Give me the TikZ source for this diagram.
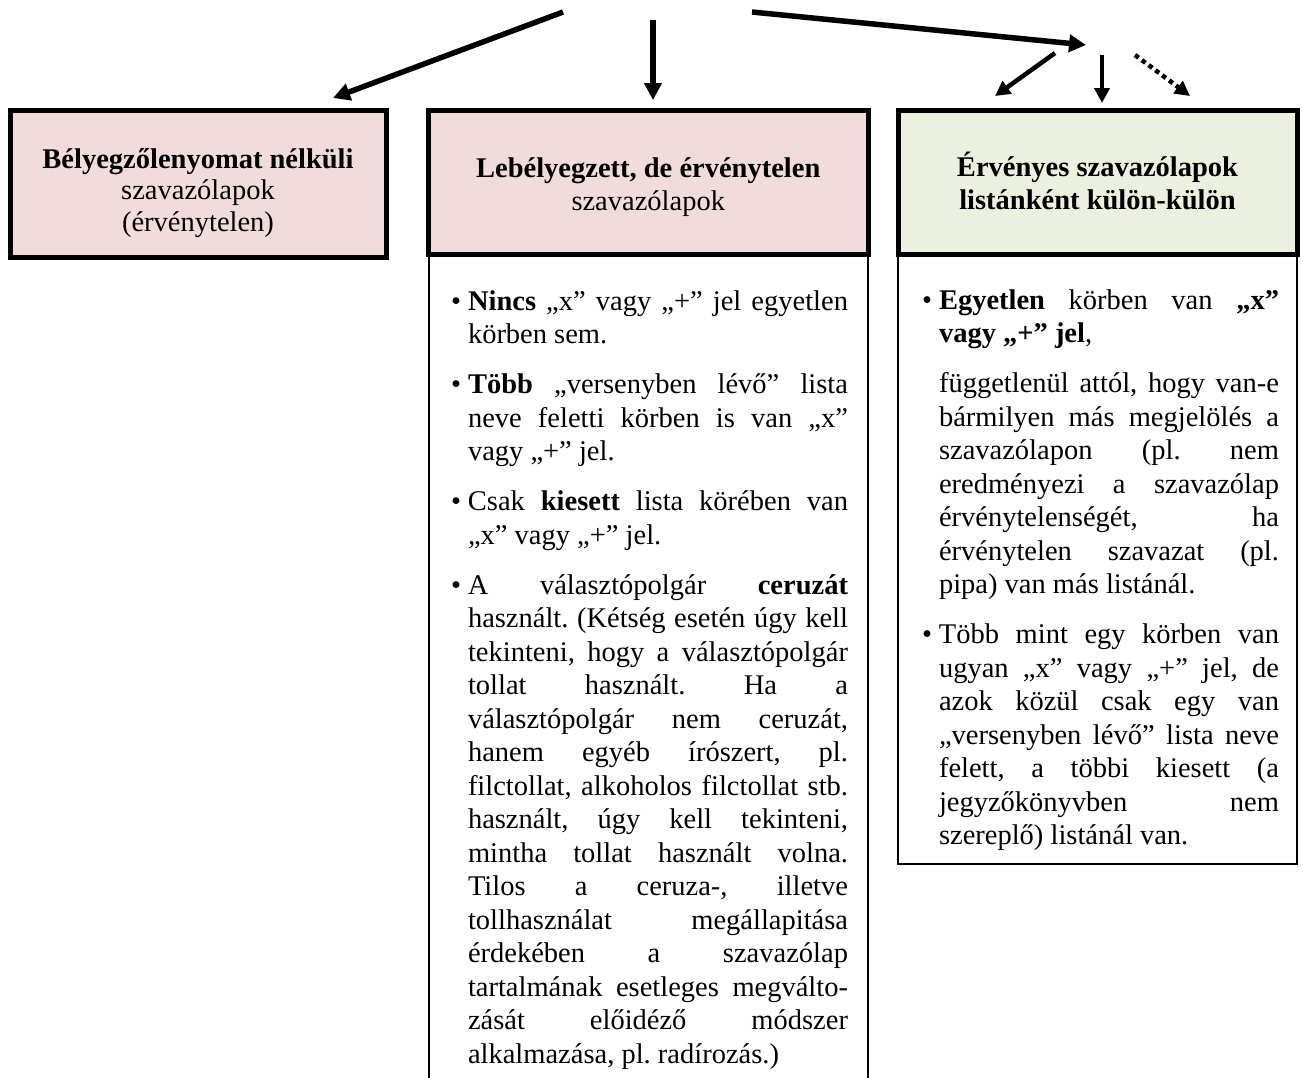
\documentclass[tikz,border=0pt]{standalone}
\usepackage{fontspec}
\setmainfont{Liberation Serif}
\usetikzlibrary{arrows.meta}
\definecolor{pinkc}{HTML}{F2DCDB}
\definecolor{greenc}{HTML}{EBF1DE}
\frenchspacing
\newlength\cw
\newcommand\jline[1]{\hbox to \cw{\spaceskip=.25em plus 1fil minus .05em\xspaceskip=\spaceskip #1}}
\newcommand\eline[1]{\hbox to \cw{#1\hfil}}
\newcommand\bul{\llap{•\hskip 7pt}}
\newcommand\itemgap{\vskip 16.5pt}
\begin{document}
\begin{tikzpicture}[x=1pt,y=-1pt,
  hdrbox/.style={draw=black, line width=5pt, rectangle, inner sep=0pt, outer sep=0pt},
  bodybox/.style={draw=black, line width=2pt, rectangle, fill=white, inner sep=0pt, outer sep=0pt},
  txt/.style={inner sep=0pt, outer sep=0pt, font=\fontsize{28.5}{33.5}\selectfont},
  bigarrow/.style={line width=5.5pt, -{Triangle[length=17pt,width=17pt]}},
  smallarrow/.style={line width=4.5pt, -{Triangle[length=15pt,width=15pt]}},
  dotarrow/.style={line width=4.5pt, dash pattern=on 4.5pt off 4pt, -{Triangle[length=15pt,width=15pt]}}
]
\useasboundingbox (0,0) rectangle (1303,1077);
\fill[white] (0,0) rectangle (1303,1077);
\clip (0,0) rectangle (1303,1077);

% content boxes
\node[bodybox, minimum width=439.5pt, minimum height=836pt] (midbody) at (648.25,672) {};
\node[bodybox, minimum width=399pt, minimum height=609.5pt] (rightbody) at (1097.5,558.75) {};

% header boxes
\node[hdrbox, fill=pinkc, minimum width=376pt, minimum height=146.5pt] (boxL) at (198,183.75) {};
\node[hdrbox, fill=pinkc, minimum width=439.5pt, minimum height=143.5pt] (boxM) at (648.25,182.25) {};
\node[hdrbox, fill=greenc, minimum width=399pt, minimum height=143.5pt] (boxR) at (1097.5,182.25) {};

% header texts
\node[txt, anchor=base] (hL) at (198,168) {\vtop{\hsize=370pt\centering\baselineskip=31.5pt \textbf{Bélyegzőlenyomat nélküli}\\szavazólapok\\(érvénytelen)\par}};
\node[txt, anchor=base] (hM) at (648.25,177) {\vtop{\hsize=430pt\centering\baselineskip=33pt \textbf{Lebélyegzett, de érvénytelen}\\szavazólapok\par}};
\node[txt, anchor=base] (hR) at (1097.5,176) {\vtop{\hsize=390pt\centering\baselineskip=33pt \textbf{Érvényes szavazólapok}\\\textbf{listánként külön-külön}\par}};

% middle body text
\node[txt, anchor=base west] (tM) at (468,310) {\setlength\cw{380pt}\vtop{%
\jline{\bul\textbf{Nincs} „x” vagy „+” jel egyetlen}
\eline{körben sem.}
\itemgap
\jline{\bul\textbf{Több} „versenyben lévő” lista}
\jline{neve feletti körben is van „x”}
\eline{vagy „+” jel.}
\itemgap
\jline{\bul Csak \textbf{kiesett} lista körében van}
\eline{„x” vagy „+” jel.}
\itemgap
\jline{\bul A választópolgár \textbf{ceruzát}}
\jline{használt. (Kétség esetén úgy kell}
\jline{tekinteni, hogy a választópolgár}
\jline{tollat használt. Ha a}
\jline{választópolgár nem ceruzát,}
\jline{hanem egyéb írószert, pl.}
\jline{filctollat, alkoholos filctollat stb.}
\jline{használt, úgy kell tekinteni,}
\jline{mintha tollat használt volna.}
\jline{Tilos a ceruza-, illetve}
\jline{tollhasználat megállapitása}
\jline{érdekében a szavazólap}
\jline{tartalmának esetleges megválto-}
\jline{zását előidéző módszer}
\eline{alkalmazása, pl. radírozás.)}
}};

% right body text
\node[txt, anchor=base west] (tR) at (939,309) {\setlength\cw{340pt}\vtop{%
\jline{\bul\textbf{Egyetlen} körben van \textbf{„x”}}
\eline{\textbf{vagy „+” jel},}
\itemgap
\jline{függetlenül attól, hogy van-e}
\jline{bármilyen más megjelölés a}
\jline{szavazólapon (pl. nem}
\jline{eredményezi a szavazólap}
\jline{érvénytelenségét, ha}
\jline{érvénytelen szavazat (pl.}
\eline{pipa) van más listánál.}
\itemgap
\jline{\bul Több mint egy körben van}
\jline{ugyan „x” vagy „+” jel, de}
\jline{azok közül csak egy van}
\jline{„versenyben lévő” lista neve}
\jline{felett, a többi kiesett (a}
\jline{jegyzőkönyvben nem}
\eline{szereplő) listánál van.}
}};

% arrows
\coordinate (a1s) at (563,12);
\coordinate (a1e) at (333,98);
\coordinate (a2s) at (653,20);
\coordinate (a2e) at (653,100);
\coordinate (a3s) at (752,12);
\coordinate (a3e) at (1086,45);
\coordinate (a4s) at (1055,53);
\coordinate (a4e) at (995,96);
\coordinate (a5s) at (1102,55);
\coordinate (a5e) at (1102,103);
\coordinate (a6s) at (1135,55);
\coordinate (a6e) at (1190,96);
\draw[bigarrow] (a1s) -- (a1e);
\draw[bigarrow] (a2s) -- (a2e);
\draw[bigarrow] (a3s) -- (a3e);
\draw[smallarrow] (a4s) -- (a4e);
\draw[smallarrow] (a5s) -- (a5e);
\draw[dotarrow] (a6s) -- (a6e);
\end{tikzpicture}
\end{document}
